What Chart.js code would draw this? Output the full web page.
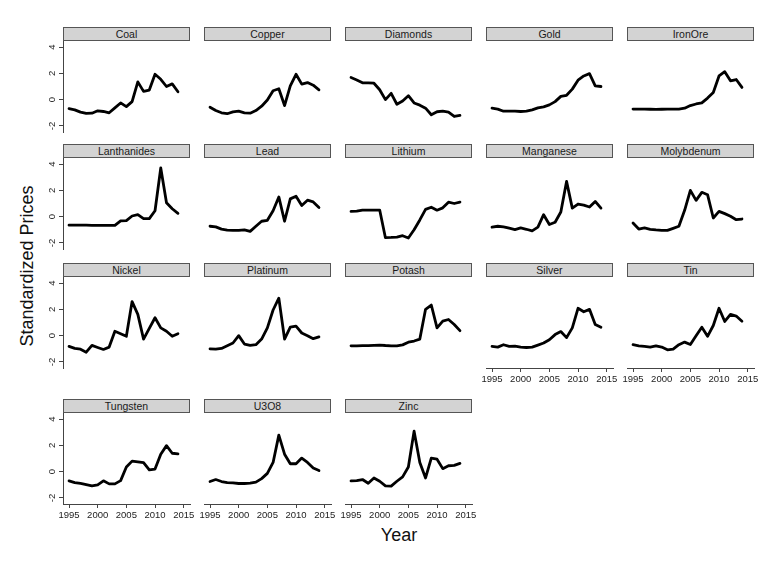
<!doctype html>
<html>

<head>
    <meta charset="utf-8">
    <title>Standardized Prices</title>
    <script src="https://cdn.jsdelivr.net/npm/chart.js@4.4.0/dist/chart.umd.min.js"></script>
    <style>
        body { margin: 0; background: #fff; font-family: "Liberation Sans", Arial, sans-serif; }
        #wrap { position: relative; width: 780px; height: 568px; overflow: hidden; }
        #wrap canvas { position: absolute; }
        .strip {
            position: absolute; box-sizing: border-box; height: 14px;
            background: #d3d3d3; border: 1px solid #555;
            font-size: 10.5px; line-height: 12px; text-align: center; color: #1a1a1a;
        }
        .title { position: absolute; white-space: nowrap; font-size: 18px; color: #111; }
    </style>
</head>

<body>
    <div id="wrap">
        <div class="title" style="left:27px;top:266px;transform:translate(-50%,-50%) rotate(-90deg)">Standardized Prices</div>
        <div class="title" style="left:399px;top:535px;transform:translate(-50%,-50%)">Year</div>
    </div>
    <script>
    var years = [1995, 1996, 1997, 1998, 1999, 2000, 2001, 2002, 2003, 2004,
                 2005, 2006, 2007, 2008, 2009, 2010, 2011, 2012, 2013, 2014];
    var xTicks = [1995, 2000, 2005, 2010, 2015];
    var yTicks = [-2, 0, 2, 4];

    var coal = [-0.68, -0.78, -0.95, -1.05, -1.03, -0.85, -0.9, -1.0, -0.63, -0.25, -0.53, -0.15, 1.35, 0.63, 0.73, 1.93, 1.55, 1.0, 1.2, 0.6];
    var copper = [-0.58, -0.83, -1.0, -1.07, -0.93, -0.88, -1.0, -1.03, -0.83, -0.5, -0.03, 0.68, 0.83, -0.45, 1.05, 1.93, 1.18, 1.3, 1.1, 0.75];
    var diamonds = [1.68, 1.5, 1.28, 1.28, 1.25, 0.75, 0.0, 0.48, -0.35, -0.1, 0.3, -0.25, -0.42, -0.65, -1.15, -0.92, -0.88, -0.95, -1.28, -1.2];
    var gold = [-0.65, -0.72, -0.88, -0.88, -0.88, -0.9, -0.88, -0.78, -0.63, -0.55, -0.4, -0.15, 0.25, 0.33, 0.8, 1.48, 1.8, 1.98, 1.05, 1.0];
    var ironOre = [-0.72, -0.72, -0.72, -0.73, -0.74, -0.73, -0.72, -0.72, -0.72, -0.65, -0.45, -0.33, -0.25, 0.12, 0.55, 1.8, 2.13, 1.43, 1.53, 0.93];
    var lanthanides = [-0.65, -0.65, -0.65, -0.65, -0.66, -0.66, -0.66, -0.66, -0.67, -0.32, -0.3, 0.05, 0.15, -0.15, -0.15, 0.45, 3.7, 1.05, 0.6, 0.25];
    var lead = [-0.73, -0.78, -0.95, -1.02, -1.05, -1.05, -1.0, -1.12, -0.73, -0.35, -0.28, 0.45, 1.5, -0.35, 1.35, 1.55, 0.85, 1.25, 1.12, 0.7];
    var lithium = [0.4, 0.42, 0.5, 0.5, 0.5, 0.5, -1.6, -1.58, -1.55, -1.45, -1.62, -1.0, -0.25, 0.55, 0.72, 0.49, 0.67, 1.1, 1.0, 1.1];
    var manganese = [-0.8, -0.73, -0.78, -0.88, -0.98, -0.86, -0.96, -1.08, -0.8, 0.15, -0.6, -0.43, 0.35, 2.68, 0.65, 0.96, 0.88, 0.73, 1.16, 0.65];
    var molybdenum = [-0.48, -0.94, -0.86, -0.96, -1.01, -1.04, -1.04, -0.89, -0.73, 0.48, 2.0, 1.24, 1.85, 1.67, -0.1, 0.4, 0.23, 0.03, -0.23, -0.18];
    var nickel = [-0.82, -0.97, -1.03, -1.26, -0.74, -0.9, -1.05, -0.87, 0.33, 0.15, -0.05, 2.59, 1.62, -0.26, 0.56, 1.36, 0.59, 0.33, -0.05, 0.15];
    var platinum = [-1.0, -1.03, -0.97, -0.77, -0.56, 0.0, -0.64, -0.74, -0.69, -0.26, 0.59, 1.95, 2.85, -0.26, 0.64, 0.72, 0.2, 0.0, -0.23, -0.1];
    var potash = [-0.77, -0.77, -0.76, -0.76, -0.74, -0.72, -0.75, -0.77, -0.77, -0.7, -0.5, -0.41, -0.26, 2.0, 2.33, 0.59, 1.1, 1.23, 0.85, 0.38];
    var silver = [-0.82, -0.87, -0.69, -0.82, -0.79, -0.87, -0.9, -0.87, -0.72, -0.56, -0.31, 0.08, 0.31, -0.15, 0.59, 2.08, 1.82, 2.0, 0.85, 0.64];
    var tin = [-0.69, -0.77, -0.82, -0.87, -0.77, -0.87, -1.08, -1.03, -0.69, -0.49, -0.67, 0.0, 0.64, -0.05, 0.77, 2.08, 1.08, 1.62, 1.49, 1.1];
    var tungsten = [-0.7, -0.83, -0.9, -0.98, -1.08, -1.0, -0.7, -0.93, -0.93, -0.68, 0.35, 0.8, 0.75, 0.68, 0.13, 0.2, 1.33, 1.98, 1.4, 1.35];
    var u3o8 = [-0.75, -0.6, -0.75, -0.83, -0.85, -0.9, -0.9, -0.88, -0.8, -0.53, -0.13, 0.7, 2.78, 1.33, 0.6, 0.6, 1.03, 0.7, 0.28, 0.08];
    var zinc = [-0.7, -0.68, -0.6, -0.88, -0.48, -0.73, -1.08, -1.1, -0.73, -0.4, 0.35, 3.08, 0.7, -0.48, 1.03, 0.95, 0.23, 0.45, 0.48, 0.63];

    var names = ['Coal', 'Copper', 'Diamonds', 'Gold', 'IronOre',
                 'Lanthanides', 'Lead', 'Lithium', 'Manganese', 'Molybdenum',
                 'Nickel', 'Platinum', 'Potash', 'Silver', 'Tin',
                 'Tungsten', 'U3O8', 'Zinc'];
    var series = [coal, copper, diamonds, gold, ironOre,
                  lanthanides, lead, lithium, manganese, molybdenum,
                  nickel, platinum, potash, silver, tin,
                  tungsten, u3o8, zinc];

    // panel grid (pixels)
    var colLeft = [63, 204, 345, 486, 627];
    var stripTop = [27, 144, 263, 399];
    var panelW = 127, stripH = 14, plotH = 91;

    Chart.defaults.font.family = '"Liberation Sans", Arial, sans-serif';

    var wrap = document.getElementById('wrap');

    names.forEach(function(name, i) {
        var col = i % 5, row = Math.floor(i / 5);
        var hasY = col === 0;
        var hasX = i + 5 >= names.length;
        var padL = hasY ? 30 : 14, padR = 14, padT = 12, padB = hasX ? 24 : 12;

        var canvas = document.createElement('canvas');
        canvas.width = panelW + padL + padR;
        canvas.height = plotH + padT + padB;
        canvas.style.left = (colLeft[col] - padL) + 'px';
        canvas.style.top = (stripTop[row] + stripH - padT) + 'px';
        wrap.appendChild(canvas);

        var strip = document.createElement('div');
        strip.className = 'strip';
        strip.style.left = colLeft[col] + 'px';
        strip.style.top = stripTop[row] + 'px';
        strip.style.width = panelW + 'px';
        strip.textContent = name;
        wrap.appendChild(strip);

        var tickStyle = { color: '#222', font: { size: 9.5 }, padding: 2, autoSkip: false,
                          callback: function(v) { return String(v); } };

        new Chart(canvas, {
            type: 'line',
            data: {
                datasets: [{
                    data: years.map(function(y, k) { return { x: y, y: series[i][k] }; }),
                    borderColor: '#000',
                    borderWidth: 2.8,
                    borderJoinStyle: 'round',
                    borderCapStyle: 'round',
                    pointRadius: 0,
                    tension: 0,
                    fill: false
                }]
            },
            options: {
                responsive: false,
                animation: false,
                events: [],
                layout: { padding: { left: hasY ? 0 : padL, right: padR, top: padT, bottom: hasX ? 0 : padB } },
                plugins: { legend: { display: false }, tooltip: { enabled: false } },
                scales: {
                    x: {
                        type: 'linear', min: 1993.95, max: 2016.1, display: hasX,
                        afterBuildTicks: function(s) { s.ticks = xTicks.map(function(v) { return { value: v }; }); },
                        afterFit: function(s) { if (hasX) s.height = padB; },
                        grid: { drawOnChartArea: false, drawTicks: true, tickLength: 4, color: '#444' },
                        border: { color: '#444', width: 1 },
                        ticks: Object.assign({ maxRotation: 0, minRotation: 0 }, tickStyle)
                    },
                    y: {
                        min: -2.46, max: 4.46, display: hasY,
                        afterBuildTicks: function(s) { s.ticks = yTicks.map(function(v) { return { value: v }; }); },
                        afterFit: function(s) { if (hasY) s.width = padL; },
                        grid: { drawOnChartArea: false, drawTicks: true, tickLength: 4, color: '#444' },
                        border: { color: '#444', width: 1 },
                        ticks: Object.assign({ minRotation: 90, maxRotation: 90, crossAlign: 'center' }, tickStyle)
                    }
                }
            }
        });
    });
    </script>
</body>

</html>
